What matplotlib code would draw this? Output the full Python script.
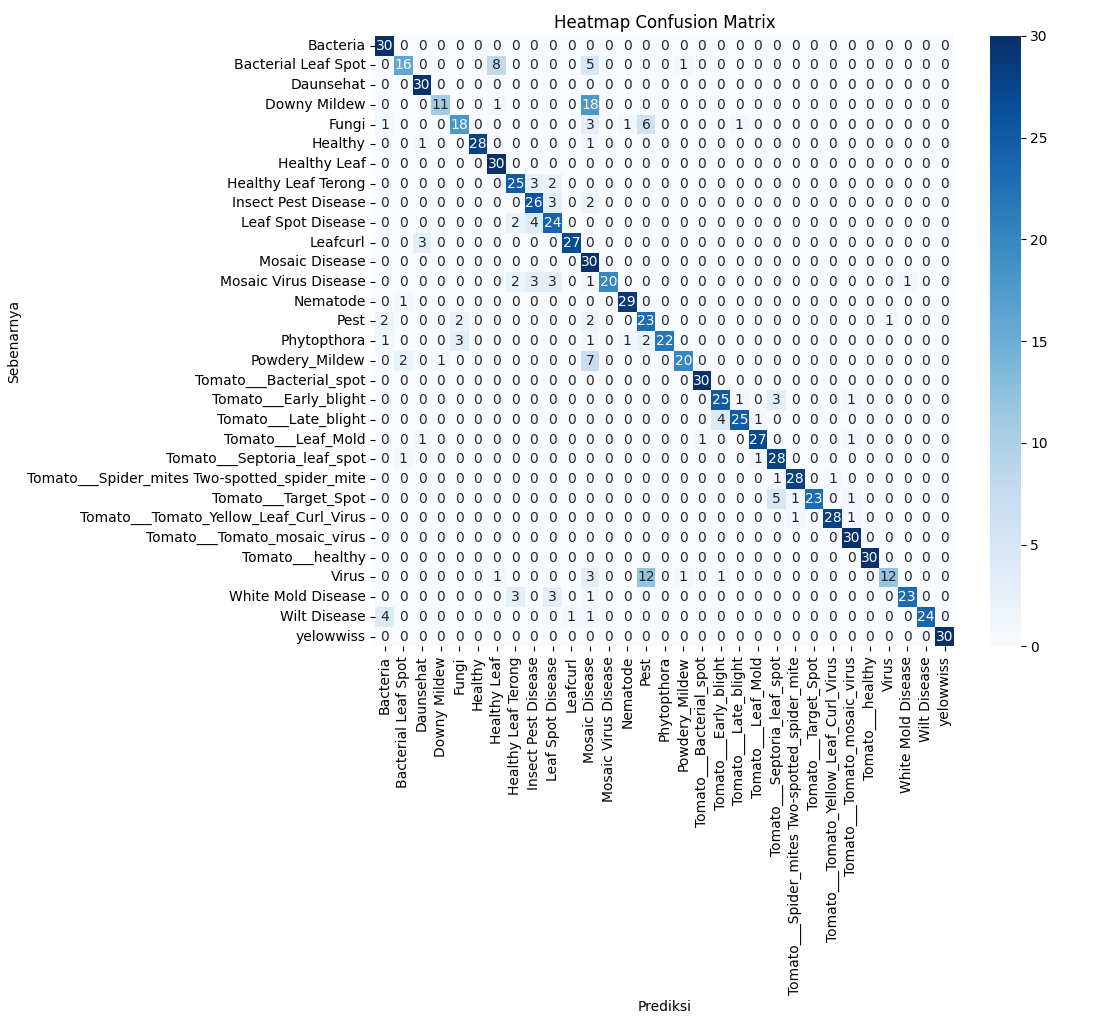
import numpy as np
import seaborn as sns
from matplotlib import pyplot as plt

labels = ["Bacteria", "Bacterial Leaf Spot", "Daunsehat", "Downy Mildew", "Fungi", "Healthy",
          "Healthy Leaf", "Healthy Leaf Terong", "Insect Pest Disease", "Leaf Spot Disease",
          "Leafcurl", "Mosaic Disease", "Mosaic Virus Disease", "Nematode", "Pest", "Phytopthora",
          "Powdery_Mildew", "Tomato___Bacterial_spot", "Tomato___Early_blight",
          "Tomato___Late_blight", "Tomato___Leaf_Mold", "Tomato___Septoria_leaf_spot",
          "Tomato___Spider_mites Two-spotted_spider_mite", "Tomato___Target_Spot",
          "Tomato___Tomato_Yellow_Leaf_Curl_Virus", "Tomato___Tomato_mosaic_virus",
          "Tomato___healthy", "Virus", "White Mold Disease", "Wilt Disease", "yelowwiss"]

# non-zero cells: (true row, predicted col, count)
cells = [
    (0, 0, 30),
    (1, 1, 16), (1, 6, 8), (1, 11, 5), (1, 16, 1),
    (2, 2, 30),
    (3, 3, 11), (3, 6, 1), (3, 11, 18),
    (4, 0, 1), (4, 4, 18), (4, 11, 3), (4, 13, 1), (4, 14, 6), (4, 19, 1),
    (5, 2, 1), (5, 5, 28), (5, 11, 1),
    (6, 6, 30),
    (7, 7, 25), (7, 8, 3), (7, 9, 2),
    (8, 8, 26), (8, 9, 3), (8, 11, 2),
    (9, 7, 2), (9, 8, 4), (9, 9, 24),
    (10, 2, 3), (10, 10, 27),
    (11, 11, 30),
    (12, 7, 2), (12, 8, 3), (12, 9, 3), (12, 11, 1), (12, 12, 20), (12, 28, 1),
    (13, 1, 1), (13, 13, 29),
    (14, 0, 2), (14, 4, 2), (14, 11, 2), (14, 14, 23), (14, 27, 1),
    (15, 0, 1), (15, 4, 3), (15, 11, 1), (15, 13, 1), (15, 14, 2), (15, 15, 22),
    (16, 1, 2), (16, 3, 1), (16, 11, 7), (16, 16, 20),
    (17, 17, 30),
    (18, 18, 25), (18, 19, 1), (18, 21, 3), (18, 25, 1),
    (19, 18, 4), (19, 19, 25), (19, 20, 1),
    (20, 2, 1), (20, 17, 1), (20, 20, 27), (20, 25, 1),
    (21, 1, 1), (21, 20, 1), (21, 21, 28),
    (22, 21, 1), (22, 22, 28), (22, 24, 1),
    (23, 21, 5), (23, 22, 1), (23, 23, 23), (23, 25, 1),
    (24, 22, 1), (24, 24, 28), (24, 25, 1),
    (25, 25, 30),
    (26, 26, 30),
    (27, 6, 1), (27, 11, 3), (27, 14, 12), (27, 16, 1), (27, 18, 1), (27, 27, 12),
    (28, 7, 3), (28, 9, 3), (28, 11, 1), (28, 28, 23),
    (29, 0, 4), (29, 10, 1), (29, 11, 1), (29, 29, 24),
    (30, 30, 30),
]

cm = np.zeros((len(labels), len(labels)), dtype=int)
for r, c, v in cells:
    cm[r, c] = v

fig = plt.figure(figsize=(11.04, 10.26), dpi=100)
ax = sns.heatmap(cm, annot=True, fmt="d", cmap="Blues", xticklabels=labels, yticklabels=labels)
ax.set_title("Heatmap Confusion Matrix")
ax.set_xlabel("Prediksi")
ax.set_ylabel("Sebenarnya")
plt.subplots_adjust(left=0.34, right=0.995, top=0.965, bottom=0.37)
fig.savefig("out.png", dpi=100)
